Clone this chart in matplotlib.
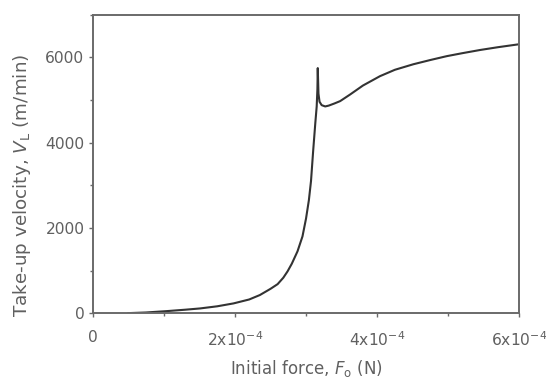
import matplotlib.pyplot as plt
from matplotlib.ticker import MultipleLocator

plt.rcParams['font.family'] = ['DejaVu Sans']

# initial force (N) and take-up velocity (m/min)
force = [0.50e-4, 0.75e-4, 1.04e-4, 1.30e-4, 1.51e-4, 1.75e-4, 1.98e-4, 2.20e-4,
         2.35e-4, 2.50e-4, 2.60e-4, 2.68e-4, 2.74e-4, 2.80e-4, 2.88e-4, 2.95e-4,
         3.00e-4, 3.04e-4, 3.07e-4, 3.10e-4, 3.13e-4, 3.15e-4, 3.16e-4, 3.165e-4,
         3.175e-4, 3.19e-4, 3.22e-4, 3.27e-4, 3.32e-4, 3.40e-4, 3.48e-4, 3.62e-4,
         3.80e-4, 4.04e-4, 4.25e-4, 4.51e-4, 4.75e-4, 4.98e-4, 5.20e-4, 5.45e-4,
         5.70e-4, 6.00e-4]
velocity = [0, 15, 47, 80, 110, 160, 228, 320,
            424, 570, 680, 830, 980, 1160, 1450, 1800,
            2220, 2650, 3100, 3800, 4450, 4850, 5250, 5750,
            5150, 4960, 4880, 4850, 4870, 4920, 4975, 5130,
            5340, 5560, 5710, 5840, 5940, 6030, 6100, 6175,
            6240, 6310]

xticks = [0, 2e-4, 4e-4, 6e-4]
xticklabels = ['0', '2x10$^{-4}$', '4x10$^{-4}$', '6x10$^{-4}$']
yticks = [0, 2000, 4000, 6000]

fig = plt.figure(figsize=(5.46, 3.8), dpi=100)
ax = fig.add_axes([0.170, 0.176, 0.781, 0.785])
ax.plot(force, velocity, color='#333333', lw=1.5)

ax.set_xlim(0, 6e-4)
ax.set_ylim(0, 7000)
ax.set_xticks(xticks)
ax.set_xticklabels(xticklabels)
ax.set_yticks(yticks)
ax.xaxis.set_minor_locator(MultipleLocator(1e-4))
ax.yaxis.set_minor_locator(MultipleLocator(1000))

grey = '#6a6a6a'
txt = '#606060'
for s in ax.spines.values():
    s.set_color(grey)
    s.set_linewidth(1.4)
ax.tick_params(which='both', direction='out', colors=grey, labelcolor=txt,
               labelsize=11.2, width=1.0)
ax.tick_params(which='major', length=3)
ax.tick_params(which='minor', length=2)
ax.tick_params(axis='x', pad=9.5)
ax.tick_params(axis='y', pad=3)

ax.set_xlabel('Initial force, $F_{\\mathrm{o}}$ (N)', fontsize=12, color=txt)
ax.set_ylabel('Take-up velocity, $V_{\\mathrm{L}}$ (m/min)', fontsize=13.2, color=txt)
ax.xaxis.set_label_coords(0.5, -0.15)
ax.yaxis.set_label_coords(-0.14, 0.43)

fig.savefig('out.png', dpi=100)
